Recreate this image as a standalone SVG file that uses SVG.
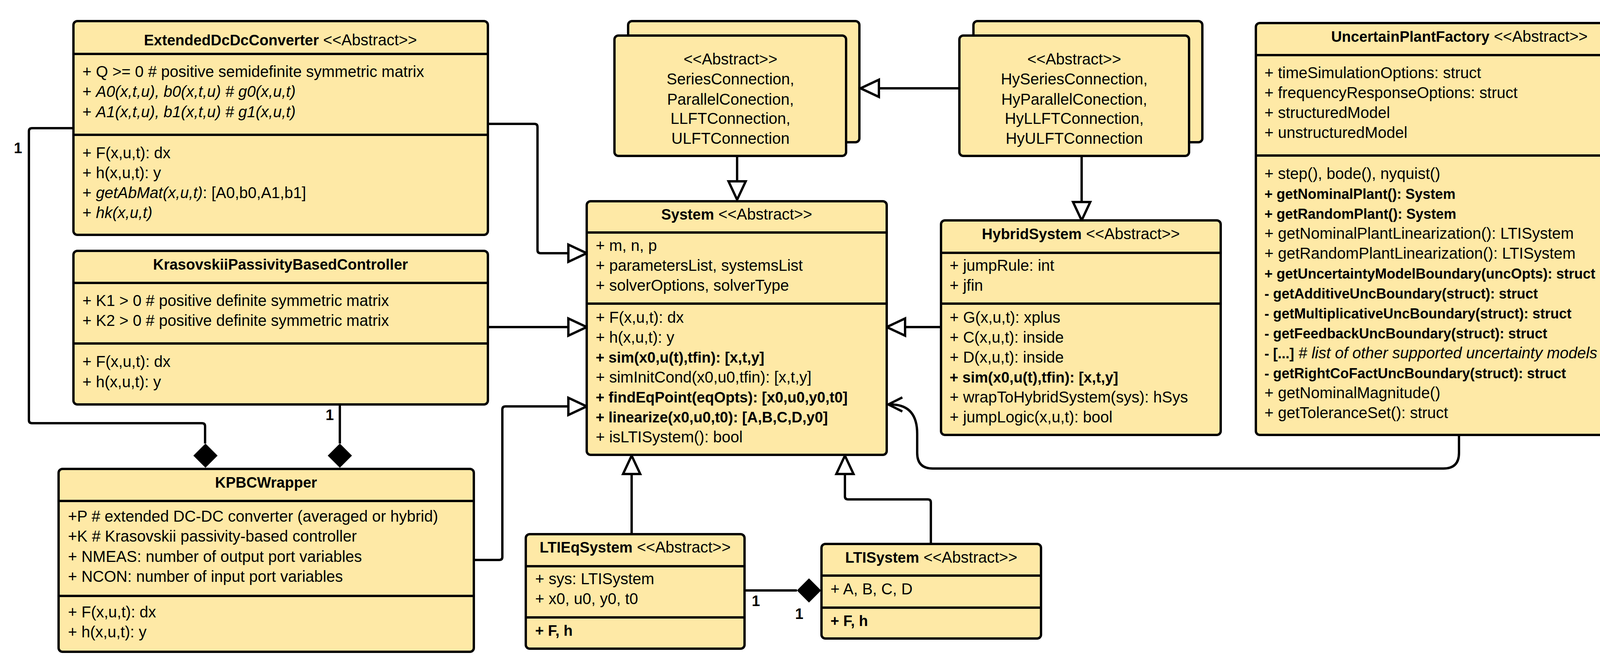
<svg xmlns="http://www.w3.org/2000/svg" width="4328" height="1689" viewBox="0 0 4328 1689" xml:space="preserve">
<style>
.b{fill:#fee9a6;stroke:#000;stroke-width:6}
.l{stroke:#000;stroke-width:6;fill:none}
text{font-family:"Liberation Sans",Arial,sans-serif;font-size:40px;fill:#000}
.t{text-anchor:middle}
.bd{font-weight:bold;font-size:38px}
.bs{font-weight:bold;font-size:36px}
.it{font-style:italic}
.tri{fill:#fff;stroke:#000;stroke-width:6}
</style>
<rect width="4328" height="1689" fill="#fff"/>
<g id="connectors">
<path class="l" d="M188 328 H82 Q74 328 74 336 V1075 Q74 1083 82 1083 H517 Q525 1083 525 1091 V1135"/>
<path d="M526 1135 L557 1166 L526 1197 L495 1166 Z"/>
<path class="l" d="M870 1035 V1135"/>
<path d="M870 1135 L901 1166 L870 1197 L839 1166 Z"/>
<path class="l" d="M1249 317 H1368 Q1376 317 1376 325 V640 Q1376 648 1384 648 H1455"/>
<path class="l" d="M1249 837 H1455"/>
<path class="l" d="M1213 1433 H1278 Q1286 1433 1286 1425 V1048 Q1286 1040 1294 1040 H1455"/>
<path class="tri" d="M1502 648 L1455 626 L1455 670 Z"/>
<path class="tri" d="M1502 837 L1455 815 L1455 859 Z"/>
<path class="tri" d="M1502 1040 L1455 1018 L1455 1062 Z"/>
<path class="l" d="M2456 226 H2250"/>
<path class="tri" d="M2203 226 L2250 204 L2250 248 Z"/>
<path class="l" d="M1887 399 V464"/>
<path class="tri" d="M1887 511 L1865 464 L1909 464 Z"/>
<path class="l" d="M2769 399 V517"/>
<path class="tri" d="M2769 564 L2747 517 L2791 517 Z"/>
<path class="l" d="M2409 837 H2317"/>
<path class="tri" d="M2270 837 L2317 815 L2317 859 Z"/>
<path class="l" d="M2280 1035 Q2348 1035 2348 1110 V1159 Q2348 1199 2388 1199 H3695 Q3735 1199 3735 1159 V1113"/>
<path class="l" d="M2310 1017 L2274 1035 L2310 1053"/>
<path class="l" d="M1617 1213 V1367"/>
<path class="tri" d="M1617 1166 L1595 1213 L1639 1213 Z"/>
<path class="l" d="M2163 1213 V1270 Q2163 1278 2171 1278 H2375 Q2383 1278 2383 1286 V1392"/>
<path class="tri" d="M2163 1166 L2141 1213 L2185 1213 Z"/>
<path class="l" d="M1906 1511 H2040"/>
<path d="M2040 1511 L2071 1480 L2102 1511 L2071 1542 Z"/>
<text x="46" y="392" class="bd t" font-size="34">1</text>
<text x="844" y="1075" class="bd t" font-size="34">1</text>
<text x="1935" y="1551" class="bd t" font-size="34">1</text>
<text x="2046" y="1584" class="bd t" font-size="34">1</text>
</g>
<g id="ExtendedDcDcConverter">
<rect class="b" x="188" y="54" width="1061" height="547" rx="10"/>
<path class="l" d="M188 138 H1249 M188 345 H1249"/>
<text x="718" y="116" class="t"><tspan class="bd">ExtendedDcDcConverter</tspan> &lt;&lt;Abstract&gt;&gt;</text>
<text x="211" y="197">+ Q &gt;= 0  # positive semidefinite symmetric matrix</text>
<text x="211" y="248">+ <tspan class="it">A0(x,t,u), b0(x,t,u)  # g0(x,u,t)</tspan></text>
<text x="211" y="300">+ <tspan class="it">A1(x,t,u), b1(x,t,u)  # g1(x,u,t)</tspan></text>
<text x="211" y="405">+ F(x,u,t): dx</text>
<text x="211" y="456">+ h(x,u,t): y</text>
<text x="211" y="507">+ <tspan class="it">getAbMat(x,u,t)</tspan>: [A0,b0,A1,b1]</text>
<text x="211" y="558">+ <tspan class="it">hk(x,u,t)</tspan></text>
</g>
<g id="KrasovskiiPassivityBasedController">
<rect class="b" x="188" y="642" width="1061" height="393" rx="10"/>
<path class="l" d="M188 724 H1249 M188 879 H1249"/>
<text x="718" y="690" class="t bd">KrasovskiiPassivityBasedController</text>
<text x="211" y="783">+ K1 &gt; 0  # positive definite symmetric matrix</text>
<text x="211" y="834">+ K2 &gt; 0  # positive definite symmetric matrix</text>
<text x="211" y="939">+ F(x,u,t): dx</text>
<text x="211" y="991">+ h(x,u,t): y</text>
</g>
<g id="KPBCWrapper">
<rect class="b" x="150" y="1200" width="1063" height="468" rx="10"/>
<path class="l" d="M150 1282 H1213 M150 1525 H1213"/>
<text x="681" y="1248" class="t bd">KPBCWrapper</text>
<text x="174" y="1335">+P  # extended DC-DC converter (averaged or hybrid)</text>
<text x="174" y="1386">+K  # Krasovskii passivity-based controller</text>
<text x="174" y="1438">+ NMEAS: number of output port variables</text>
<text x="174" y="1489">+ NCON: number of input port variables</text>
<text x="174" y="1580">+ F(x,u,t): dx</text>
<text x="174" y="1631">+ h(x,u,t): y</text>
</g>
<g id="Connections">
<rect class="b" x="1608" y="54" width="592" height="310" rx="10"/>
<rect class="b" x="1573" y="91" width="593" height="308" rx="10"/>
<text x="1870" y="165" class="t">&lt;&lt;Abstract&gt;&gt;</text>
<text x="1870" y="216" class="t">SeriesConnection,</text>
<text x="1870" y="268" class="t">ParallelConection,</text>
<text x="1870" y="317" class="t">LLFTConnection,</text>
<text x="1870" y="368" class="t">ULFTConnection</text>
</g>
<g id="HyConnections">
<rect class="b" x="2492" y="54" width="586" height="310" rx="10"/>
<rect class="b" x="2456" y="91" width="588" height="308" rx="10"/>
<text x="2750" y="165" class="t">&lt;&lt;Abstract&gt;&gt;</text>
<text x="2750" y="216" class="t">HySeriesConnection,</text>
<text x="2750" y="268" class="t">HyParallelConection,</text>
<text x="2750" y="317" class="t">HyLLFTConnection,</text>
<text x="2750" y="368" class="t">HyULFTConnection</text>
</g>
<g id="System">
<rect class="b" x="1502" y="515" width="768" height="649" rx="10"/>
<path class="l" d="M1502 595 H2270 M1502 777 H2270"/>
<text x="1886" y="562" class="t"><tspan class="bd">System</tspan> &lt;&lt;Abstract&gt;&gt;</text>
<text x="1525" y="642">+ m, n, p</text>
<text x="1525" y="693">+ parametersList, systemsList</text>
<text x="1525" y="744">+ solverOptions, solverType</text>
<text x="1525" y="826">+ F(x,u,t): dx</text>
<text x="1525" y="877">+ h(x,u,t): y</text>
<text x="1525" y="928" class="bd">+ sim(x0,u(t),tfin): [x,t,y]</text>
<text x="1525" y="979">+ simInitCond(x0,u0,tfin): [x,t,y]</text>
<text x="1525" y="1030" class="bd">+ findEqPoint(eqOpts): [x0,u0,y0,t0]</text>
<text x="1525" y="1081" class="bd">+ linearize(x0,u0,t0): [A,B,C,D,y0]</text>
<text x="1525" y="1132">+ isLTISystem(): bool</text>
</g>
<g id="HybridSystem">
<rect class="b" x="2409" y="564" width="716" height="549" rx="10"/>
<path class="l" d="M2409 647 H3125 M2409 777 H3125"/>
<text x="2767" y="612" class="t"><tspan class="bd">HybridSystem</tspan> &lt;&lt;Abstract&gt;&gt;</text>
<text x="2431" y="693">+ jumpRule: int</text>
<text x="2431" y="744">+ jfin</text>
<text x="2431" y="826">+ G(x,u,t): xplus</text>
<text x="2431" y="877">+ C(x,u,t): inside</text>
<text x="2431" y="928">+ D(x,u,t): inside</text>
<text x="2431" y="979" class="bd">+ sim(x0,u(t),tfin): [x,t,y]</text>
<text x="2431" y="1030">+ wrapToHybridSystem(sys): hSys</text>
<text x="2431" y="1081">+ jumpLogic(x,u,t): bool</text>
</g>
<g id="UncertainPlantFactory">
<rect class="b" x="3215" y="59" width="1043" height="1054" rx="10"/>
<path class="l" d="M3215 141 H4258 M3215 398 H4258"/>
<text x="3736" y="107" class="t"><tspan class="bd">UncertainPlantFactory</tspan> &lt;&lt;Abstract&gt;&gt;</text>
<text x="3237" y="200">+ timeSimulationOptions: struct</text>
<text x="3237" y="251">+ frequencyResponseOptions: struct</text>
<text x="3237" y="302">+ structuredModel</text>
<text x="3237" y="353">+ unstructuredModel</text>
<text x="3237" y="458">+ step(), bode(), nyquist()</text>
<text x="3237" y="509" class="bs">+ getNominalPlant(): System</text>
<text x="3237" y="560" class="bs">+ getRandomPlant(): System</text>
<text x="3237" y="611">+ getNominalPlantLinearization(): LTISystem</text>
<text x="3237" y="662">+ getRandomPlantLinearization(): LTISystem</text>
<text x="3237" y="713" class="bs">+ getUncertaintyModelBoundary(uncOpts): struct</text>
<text x="3237" y="764" class="bs">- getAdditiveUncBoundary(struct): struct</text>
<text x="3237" y="815" class="bs">- getMultiplicativeUncBoundary(struct): struct</text>
<text x="3237" y="866" class="bs">- getFeedbackUncBoundary(struct): struct</text>
<text x="3237" y="917"><tspan class="bs">- [...]</tspan>  <tspan class="it"># list of other supported uncertainty models</tspan></text>
<text x="3237" y="968" class="bs">- getRightCoFactUncBoundary(struct): struct</text>
<text x="3237" y="1019">+ getNominalMagnitude()</text>
<text x="3237" y="1070">+ getToleranceSet(): struct</text>
</g>
<g id="LTIEqSystem">
<rect class="b" x="1346" y="1367" width="560" height="293" rx="10"/>
<path class="l" d="M1346 1449 H1906 M1346 1580 H1906"/>
<text x="1626" y="1414" class="t"><tspan class="bd">LTIEqSystem</tspan> &lt;&lt;Abstract&gt;&gt;</text>
<text x="1370" y="1495">+ sys: LTISystem</text>
<text x="1370" y="1546">+ x0, u0, y0, t0</text>
<text x="1370" y="1627" class="bd">+ F, h</text>
</g>
<g id="LTISystem">
<rect class="b" x="2103" y="1392" width="562" height="242" rx="10"/>
<path class="l" d="M2103 1473 H2665 M2103 1555 H2665"/>
<text x="2384" y="1440" class="t"><tspan class="bd">LTISystem</tspan> &lt;&lt;Abstract&gt;&gt;</text>
<text x="2126" y="1521">+ A, B, C, D</text>
<text x="2126" y="1602" class="bd">+ F, h</text>
</g>
</svg>
